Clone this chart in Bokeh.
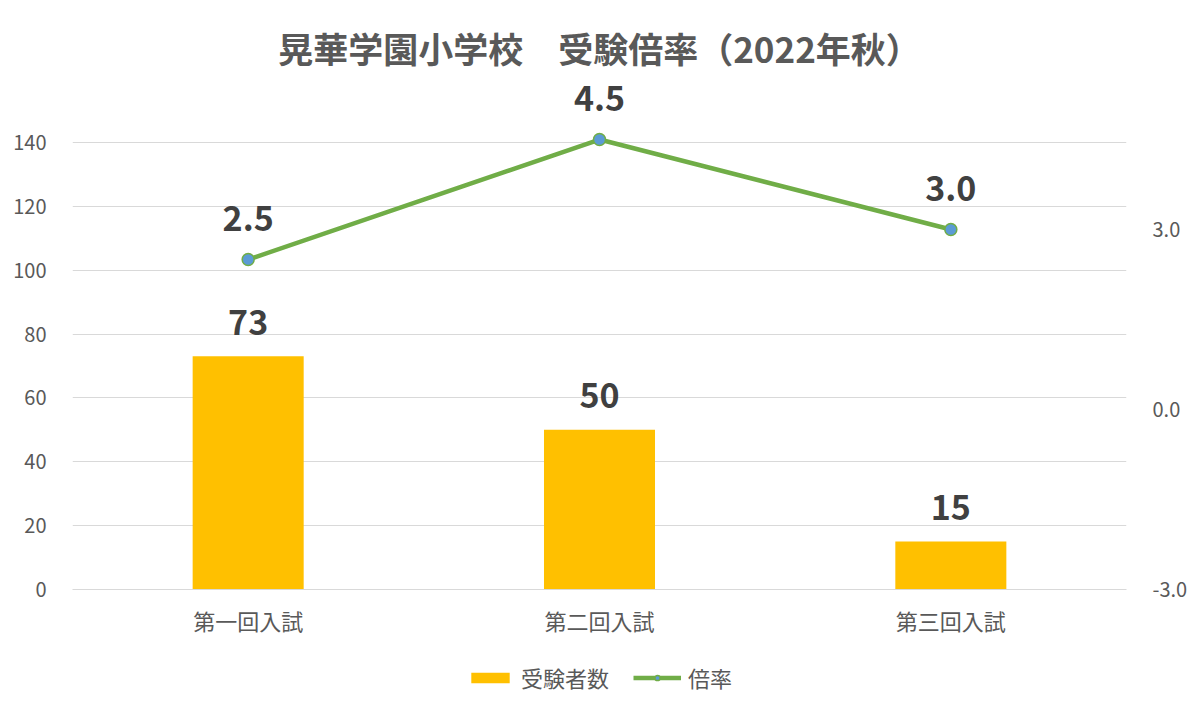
from bokeh.plotting import figure
from bokeh.layouts import column
from bokeh.models import (FactorRange, Range1d, LinearAxis, FixedTicker, NumeralTickFormatter,
                          ColumnDataSource, LabelSet, Legend, LegendItem)
from bokeh.core.properties import value
from bokeh.embed import file_html
from bokeh.resources import INLINE

# ---- data ----
categories = ["第一回入試", "第二回入試", "第三回入試"]
applicants = [73, 50, 15]
ratio = [2.5, 4.5, 3.0]
applicant_labels = ["73", "50", "15"]
ratio_labels = ["2.5", "4.5", "3.0"]
left_ticks = [0, 20, 40, 60, 80, 100, 120, 140]
right_ticks = [-3.0, 0.0, 3.0]
title_text = "晃華学園小学校　受験倍率（2022年秋）"
legend_labels = ["受験者数", "倍率"]

FONT = "Noto Sans CJK JP"
BAR = "#FFC000"
LINE = "#70AD47"
MARK = "#5B9BD5"
GRID = "#D9D9D9"
TXT = "#595959"
LBL = "#404040"
NAN = float("nan")

src = ColumnDataSource(dict(cat=categories, n=applicants, r=ratio,
                            nl=applicant_labels, rl=ratio_labels))

p = figure(frame_width=1054, frame_height=511,
           x_range=FactorRange(factors=categories, range_padding=0),
           y_range=Range1d(0, 160),
           output_backend="svg", toolbar_location=None,
           min_border_left=72, min_border_right=58,
           min_border_top=78, min_border_bottom=50)
p.extra_y_ranges = {"rate": Range1d(-3, 5.517)}
p.outline_line_color = None

bars = p.vbar(x="cat", top="n", width=0.316, source=src, fill_color=BAR, line_color=None)
line = p.line(x="cat", y="r", source=src, y_range_name="rate", line_width=4.5, line_color=LINE)
marks = p.scatter(x="cat", y="r", source=src, y_range_name="rate", size=12,
                  fill_color=MARK, line_color=LINE, line_width=1.5)

p.add_layout(LabelSet(x="cat", y="n", text="nl", source=src, y_offset=34,
                      text_align="center", text_baseline="middle",
                      text_font=value(FONT), text_font_size="34px",
                      text_font_style="bold", text_color=LBL))
p.add_layout(LabelSet(x="cat", y="r", text="rl", source=src, y_range_name="rate",
                      y_offset=41, text_align="center", text_baseline="middle",
                      text_font=value(FONT), text_font_size="34px",
                      text_font_style="bold", text_color=LBL))

# title
p.title.text = title_text
p.title.align = "center"
p.title.text_font = FONT
p.title.text_font_size = "35px"
p.title.text_font_style = "bold"
p.title.text_color = TXT
p.title.standoff = 12

# axes
def style_axis(ax, standoff):
    ax.axis_line_color = None
    ax.major_tick_line_color = None
    ax.minor_tick_line_color = None
    ax.major_label_text_font = FONT
    ax.major_label_text_font_size = "20px"
    ax.major_label_text_color = TXT
    ax.major_label_standoff = standoff

p.yaxis.ticker = FixedTicker(ticks=left_ticks)
style_axis(p.yaxis[0], 20)
p.ygrid.ticker = FixedTicker(ticks=left_ticks)
p.ygrid.grid_line_color = GRID
p.xgrid.grid_line_color = None

raxis = LinearAxis(y_range_name="rate", ticker=FixedTicker(ticks=right_ticks),
                   formatter=NumeralTickFormatter(format="0.0"))
style_axis(raxis, 20)
p.add_layout(raxis, "right")

xa = p.xaxis[0]
xa.axis_line_color = GRID
xa.major_tick_line_color = None
xa.minor_tick_line_color = None
xa.major_label_text_font = FONT
xa.major_label_text_font_size = "22px"
xa.major_label_text_color = TXT
xa.major_label_standoff = 8

# legend strip below the chart (legend keys share the chart's styles)
lg = figure(width=1184, height=62, x_range=Range1d(0, 1), y_range=Range1d(0, 1),
            x_axis_type=None, y_axis_type=None, output_backend="svg",
            toolbar_location=None, min_border=0)
lg.outline_line_color = None
lg.grid.visible = False
k_bar = lg.vbar(x=[NAN], top=[NAN], width=0.1, fill_color=BAR, line_color=None)
k_line = lg.line(x=[NAN], y=[NAN], line_width=4.5, line_color=LINE)
k_mark = lg.scatter(x=[NAN], y=[NAN], size=12, fill_color=MARK, line_color=LINE, line_width=1.5)

legend = Legend(items=[LegendItem(label=legend_labels[0], renderers=[k_bar]),
                       LegendItem(label=legend_labels[1], renderers=[k_line, k_mark])],
                orientation="horizontal", location=(394, 8),
                glyph_width=48, glyph_height=13, label_standoff=7, spacing=24,
                label_text_font=FONT, label_text_font_size="22px", label_text_color=TXT,
                border_line_color=None, background_fill_alpha=0, padding=4, margin=0)
lg.add_layout(legend, "center")

layout = column(p, lg, spacing=0)
open("out.html", "w").write(file_html(layout, INLINE))
